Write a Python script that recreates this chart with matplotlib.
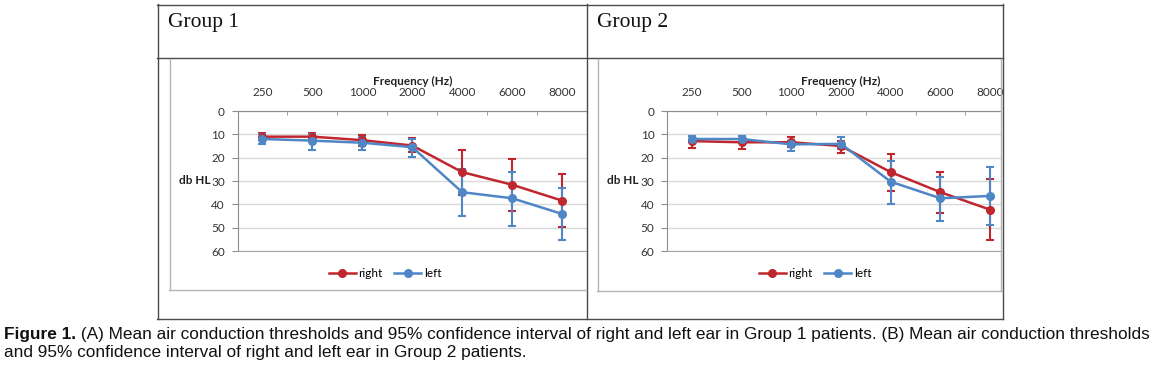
import matplotlib
matplotlib.use("Agg")
import matplotlib.pyplot as plt
from matplotlib.lines import Line2D
import matplotlib.transforms as mtransforms

# ---------------- data ----------------
frequencies = ["250", "500", "1000", "2000", "4000", "6000", "8000"]
y_ticks = [0, 10, 20, 30, 40, 50, 60]

g1_right_mean = [11.0, 11.0, 12.5, 14.8, 26.2, 31.6, 38.4]
g1_right_lo = [9.5, 9.3, 10.3, 11.4, 16.8, 20.6, 27.0]
g1_right_hi = [12.2, 12.5, 15.2, 17.5, 36.2, 42.8, 49.7]
g1_left_mean = [12.0, 12.7, 13.6, 15.5, 34.8, 37.4, 44.1]
g1_left_lo = [9.8, 9.8, 11.0, 11.8, 24.9, 26.0, 33.2]
g1_left_hi = [14.1, 16.5, 16.5, 19.6, 45.0, 49.2, 55.3]

g2_right_mean = [12.9, 13.4, 13.4, 15.0, 26.2, 34.8, 42.3]
g2_right_lo = [10.8, 10.8, 11.3, 13.0, 18.6, 26.0, 29.1]
g2_right_hi = [16.0, 16.3, 15.6, 17.9, 34.3, 43.6, 55.4]
g2_left_mean = [12.0, 12.0, 14.3, 14.1, 30.3, 37.4, 36.4]
g2_left_lo = [10.6, 10.6, 12.7, 11.0, 21.3, 28.4, 24.1]
g2_left_hi = [13.3, 13.3, 17.0, 16.4, 39.9, 47.0, 48.9]

group_titles = ["Group 1", "Group 2"]
series_names = ["right", "left"]
caption_bold = "Figure 1."
caption_line1 = (" (A) Mean air conduction thresholds and 95% confidence interval of right and "
                 "left ear in Group 1 patients. (B) Mean air conduction thresholds")
caption_line2 = "and 95% confidence interval of right and left ear in Group 2 patients."

RED = "#c0262d"
BLUE = "#4f86c6"
GRID = "#d9d9d9"
AXC = "#8c8c8c"
CHART_FONT = "Lato"
CFS = 8.5

W, H = 1157, 373
fig = plt.figure(figsize=(W / 100, H / 100), dpi=100)


def fx(x):
    return x / W


def fy(y):
    return 1 - y / H


def hline(x0, x1, y, color="#555555", lw=1.0):
    fig.add_artist(Line2D([fx(x0), fx(x1)], [fy(y), fy(y)], color=color, lw=lw))


def vline(x, y0, y1, color="#555555", lw=1.0):
    fig.add_artist(Line2D([fx(x), fx(x)], [fy(y0), fy(y1)], color=color, lw=lw))


# ---------------- outer table ----------------
tbl = "#4a4a4a"
hline(157, 1003, 4.5, tbl)
hline(157, 1003, 319, tbl)
hline(157, 1003, 58, tbl)
vline(157.5, 4, 319, tbl)
vline(1003, 4, 319, tbl)
vline(586.5, 4, 319, tbl)

fig.text(fx(168), fy(22), group_titles[0], family="Liberation Serif", fontsize=15.5,
         va="center", ha="left", color="#111111")
fig.text(fx(597), fy(22), group_titles[1], family="Liberation Serif", fontsize=15.5,
         va="center", ha="left", color="#111111")

# inner chart boxes
box = "#b5b5b5"
hline(169, 586, 290, box)
vline(169.5, 59, 290, box)
hline(597, 1002, 291, box)
vline(597.5, 59, 291, box)
vline(1001, 59, 291, box)


def make_axes(left_px, right_px, top_px, bottom_px, xmax):
    ax = fig.add_axes([fx(left_px), fy(bottom_px), (right_px - left_px) / W,
                       (bottom_px - top_px) / H])
    ax.set_xlim(-0.5, xmax)
    ax.set_ylim(60, 0)
    ax.set_facecolor("none")
    ax.set_yticks(y_ticks)
    ax.set_yticklabels([str(v) for v in y_ticks], family=CHART_FONT, fontsize=CFS, color="#333333")
    ax.yaxis.grid(True, color=GRID, lw=1.0)
    ax.set_axisbelow(True)
    ax.xaxis.tick_top()
    ax.set_xticks(range(len(frequencies)))
    ax.set_xticklabels(frequencies, family=CHART_FONT, fontsize=CFS, color="#333333")
    ax.set_xticks([i + 0.5 for i in range(len(frequencies) - 1)], minor=True)
    ax.tick_params(axis="x", which="major", length=0, pad=9)
    ax.tick_params(axis="x", which="minor", length=3, direction="in", color=AXC, top=True, bottom=False)
    ax.tick_params(axis="y", which="major", length=4, direction="out", color=AXC, pad=5)
    ax.spines["right"].set_visible(False)
    ax.spines["left"].set_color(AXC)
    ax.spines["top"].set_color(AXC)
    ax.spines["bottom"].set_color("#a6a6a6")
    trans = mtransforms.blended_transform_factory(ax.transData, ax.transAxes)
    ax.text(3, 1.0 + 30 / 140, "Frequency (Hz)", transform=trans, ha="center", va="center",
            family=CHART_FONT, fontsize=CFS, fontweight="bold", color="#222222")
    return ax


def draw(ax, rm, rlo, rhi, lm, llo, lhi):
    xs = list(range(len(frequencies)))
    for mean, lo, hi, col in [(rm, rlo, rhi, RED), (lm, llo, lhi, BLUE)]:
        yerr = [[m - a for m, a in zip(mean, lo)], [b - m for m, b in zip(mean, hi)]]
        ax.errorbar(xs, mean, yerr=yerr, color=col, lw=1.8, marker="o", markersize=5.5,
                    elinewidth=1.5, capsize=3, capthick=1.5, clip_on=True)


ax1 = make_axes(237.5, 587, 111, 251, 6.5)
draw(ax1, g1_right_mean, g1_right_lo, g1_right_hi, g1_left_mean, g1_left_lo, g1_left_hi)
ax2 = make_axes(667, 1001, 111, 251, 6.5 - (1015 - 1001) / 49.7)
draw(ax2, g2_right_mean, g2_right_lo, g2_right_hi, g2_left_mean, g2_left_lo, g2_left_hi)

fig.text(fx(211), fy(181), "db HL", ha="right", va="center", family=CHART_FONT,
         fontsize=CFS, fontweight="bold", color="#222222")
fig.text(fx(639), fy(181), "db HL", ha="right", va="center", family=CHART_FONT,
         fontsize=CFS, fontweight="bold", color="#222222")

handles = [Line2D([], [], color=RED, lw=1.8, marker="o", markersize=5.5),
           Line2D([], [], color=BLUE, lw=1.8, marker="o", markersize=5.5)]
for cx in (385, 815):
    fig.legend(handles, series_names, loc="center", bbox_to_anchor=(fx(cx), fy(273.5)),
               ncol=2, frameon=False, handlelength=2.3, handletextpad=0.2, columnspacing=1.0,
               prop={"family": CHART_FONT, "size": CFS})

# ---------------- caption ----------------
renderer = fig.canvas.get_renderer()
fs = 10.0
tb = fig.text(fx(4), fy(334), caption_bold, family="Liberation Sans", fontweight="bold",
              fontsize=fs, va="center", ha="left", color="#111111")
tr = fig.text(0, fy(334), caption_line1, family="Liberation Sans", fontsize=fs,
              va="center", ha="left", color="#111111")
wb = tb.get_window_extent(renderer).width
wr = tr.get_window_extent(renderer).width
fs *= (1155 - 4) / (wb + wr)
tb.set_fontsize(fs)
tr.set_fontsize(fs)
wb = tb.get_window_extent(renderer).width
tr.set_x(fx(4 + wb))
fig.text(fx(4), fy(353), caption_line2, family="Liberation Sans", fontsize=fs,
         va="center", ha="left", color="#111111")

fig.savefig("out.png", dpi=100)
